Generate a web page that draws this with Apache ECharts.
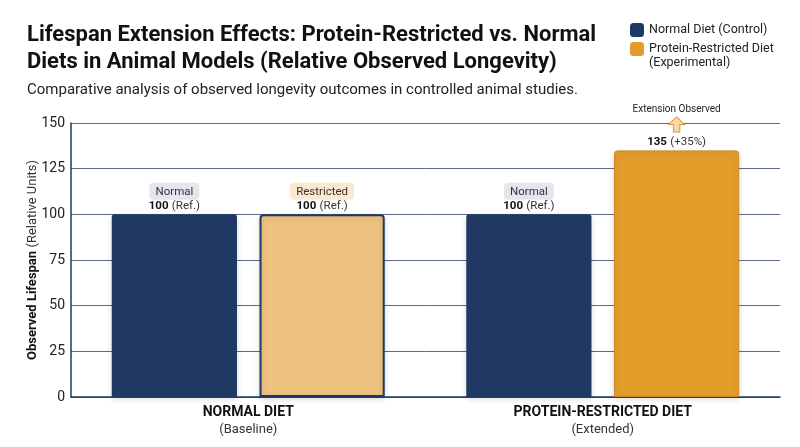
<!DOCTYPE html>
<html>
<head>
<meta charset="utf-8">
<script src="https://cdn.jsdelivr.net/npm/echarts@6/dist/echarts.min.js"></script>
<style>
  html, body { margin: 0; padding: 0; background: #fff; }
  #chart { width: 800px; height: 447px; }
</style>
</head>
<body>
<div id="chart"></div>
<script>
// data
var categories = ['NORMAL DIET', 'PROTEIN-RESTRICTED DIET'];
var categoryNotes = ['(Baseline)', '(Extended)'];
var normalValues = [100, 100];
var restrictedValues = [100, 135];
var normalBadges = ['Normal', 'Normal'];
var restrictedBadges = ['Restricted', null];
var valueNotes = ['(Ref.)', '(Ref.)'];
var restrictedNotes = ['(Ref.)', '(+35%)'];
var yTicks = [0, 25, 50, 75, 100, 125, 150];

var NAVY = '#1f3864';
var ORANGE = '#e39b2a';
var LIGHT_ORANGE = '#eec27f';
var FONT = 'Roboto, "Noto Sans", sans-serif';

var chart = echarts.init(document.getElementById('chart'));

var restrictedData = restrictedValues.map(function (v, i) {
  if (i === 0) {
    return { value: v, itemStyle: { color: LIGHT_ORANGE, borderColor: NAVY, borderWidth: 2 } };
  }
  return { value: v, itemStyle: { color: ORANGE, borderColor: '#c98a2a', borderWidth: 1 } };
});

var labelRich = {
  badgeN: { backgroundColor: '#e3e6ee', borderRadius: 4, padding: [3, 6, 2, 6], fontSize: 11.5, color: '#333', fontFamily: FONT, lineHeight: 14 },
  badgeR: { backgroundColor: '#fbe8cf', borderRadius: 4, padding: [3, 6, 2, 6], fontSize: 11.5, color: '#333', fontFamily: FONT, lineHeight: 14 },
  b: { fontWeight: 'bold', fontSize: 11.5, color: '#111', fontFamily: FONT, lineHeight: 16 },
  n: { fontSize: 11.5, color: '#333', fontFamily: FONT, lineHeight: 16 },
  note: { fontSize: 10, color: '#222', fontFamily: FONT, lineHeight: 14 },
  sp: { fontSize: 10, lineHeight: 18 }
};

var legendText = { fontFamily: FONT, fontSize: 12.5, color: '#222', lineHeight: 14 };

var option = {
  animation: false,
  title: [
    {
      text: 'Lifespan Extension Effects: Protein-Restricted vs. Normal\nDiets in Animal Models (Relative Observed Longevity)',
      left: 22, top: 17,
      textStyle: { fontFamily: FONT, fontSize: 22, fontWeight: 'bold', color: '#111', lineHeight: 27 }
    },
    {
      text: 'Comparative analysis of observed longevity outcomes in controlled animal studies.',
      left: 22, top: 78,
      textStyle: { fontFamily: FONT, fontSize: 15, fontWeight: 'normal', color: '#222' }
    }
  ],
  legend: [
    {
      left: 630, top: 23, padding: 0,
      itemWidth: 14, itemHeight: 14,
      icon: 'roundRect',
      textStyle: legendText,
      data: ['Normal Diet (Control)']
    },
    {
      left: 630, top: 28, padding: 0,
      itemWidth: 14, itemHeight: 14,
      icon: 'roundRect',
      textStyle: legendText,
      // blank first line keeps the icon level with the first text line
      formatter: function (name) { return ' \n' + name; },
      data: ['Protein-Restricted Diet\n(Experimental)']
    }
  ],
  grid: { left: 71, right: 20, top: 123, bottom: 50 },
  xAxis: {
    type: 'category',
    data: categories,
    axisLine: { lineStyle: { color: NAVY, width: 1.5 } },
    axisTick: { show: false },
    axisLabel: {
      margin: 7,
      formatter: function (v, i) { return '{t|' + v + '}\n{s|' + categoryNotes[i] + '}'; },
      rich: {
        t: { fontFamily: FONT, fontSize: 14, fontWeight: 'bold', color: '#111', lineHeight: 17 },
        s: { fontFamily: FONT, fontSize: 13, color: '#333', lineHeight: 17 }
      }
    }
  },
  yAxis: {
    type: 'value',
    min: 0, max: 150, interval: 25,
    name: '{b|Observed Lifespan} {n|(Relative Units)}',
    nameLocation: 'middle',
    nameGap: 32,
    nameMoveOverlap: false,
    nameTextStyle: {
      rich: {
        b: { fontFamily: FONT, fontSize: 13, fontWeight: 'bold', color: '#111' },
        n: { fontFamily: FONT, fontSize: 13, color: '#333' }
      }
    },
    axisLine: { show: true, lineStyle: { color: NAVY, width: 1.5 } },
    axisTick: { show: false },
    axisLabel: {
      fontFamily: FONT, fontSize: 14, color: '#222', margin: 6,
      formatter: function (v) { return yTicks.indexOf(v) >= 0 ? v : ''; }
    },
    splitLine: { lineStyle: { color: '#5a6a88', width: 1 } }
  },
  series: [
    {
      name: 'Normal Diet (Control)',
      type: 'bar',
      data: normalValues,
      barGap: '18%',
      barCategoryGap: '23%',
      itemStyle: { color: NAVY, borderRadius: [3, 3, 0, 0], shadowColor: 'rgba(0,0,0,0.15)', shadowBlur: 6, shadowOffsetY: 2 },
      label: {
        show: true, position: 'top', distance: 0,
        formatter: function (p) {
          return '{badgeN|' + normalBadges[p.dataIndex] + '}\n{b|' + p.value + '} {n|' + valueNotes[p.dataIndex] + '}';
        },
        rich: labelRich
      }
    },
    {
      name: 'Protein-Restricted Diet\n(Experimental)',
      type: 'bar',
      data: restrictedData,
      color: ORANGE,
      itemStyle: { borderRadius: [3, 3, 0, 0], shadowColor: 'rgba(0,0,0,0.15)', shadowBlur: 6, shadowOffsetY: 2 },
      label: {
        show: true, position: 'top', distance: 0,
        formatter: function (p) {
          var i = p.dataIndex;
          if (restrictedBadges[i]) {
            return '{badgeR|' + restrictedBadges[i] + '}\n{b|' + p.value + '} {n|' + restrictedNotes[i] + '}';
          }
          return '{note|Extension Observed}\n{sp|}\n{b|' + p.value + '} {n|' + restrictedNotes[i] + '}';
        },
        rich: labelRich
      },
      markPoint: {
        silent: true,
        symbol: 'path://M5,0 L10,5 L7,5 L7,10 L3,10 L3,5 L0,5 Z',
        symbolSize: [16, 15],
        symbolOffset: [0, -26],
        itemStyle: { color: '#f9d9a9', borderColor: '#d6964a', borderWidth: 1 },
        label: { show: false },
        data: [{ coord: [1, restrictedValues[1]] }]
      }
    }
  ]
};

chart.setOption(option);
</script>
</body>
</html>
